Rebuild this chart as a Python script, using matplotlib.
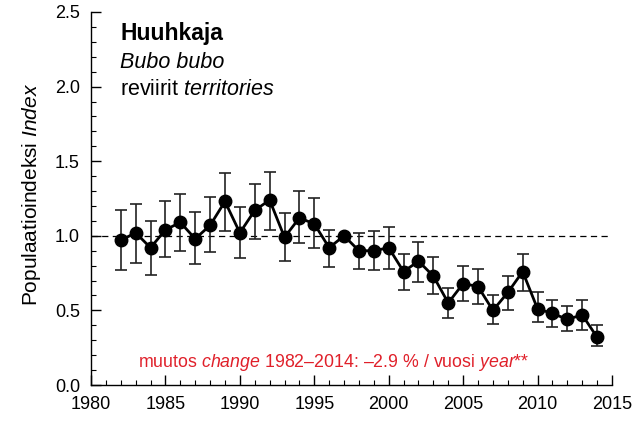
import matplotlib
matplotlib.use("Agg")
import matplotlib.pyplot as plt
from matplotlib.ticker import MultipleLocator

plt.rcParams['font.family'] = ['Liberation Sans', 'DejaVu Sans']
plt.rcParams['mathtext.fontset'] = 'custom'
plt.rcParams['mathtext.rm'] = 'Liberation Sans'
plt.rcParams['mathtext.it'] = 'Liberation Sans:italic'
plt.rcParams['mathtext.bf'] = 'Liberation Sans:bold'

years = list(range(1982, 2015))
index = [0.97, 1.02, 0.92, 1.04, 1.09, 0.98, 1.07, 1.23, 1.02, 1.17, 1.24, 0.99,
         1.12, 1.08, 0.92, 1.00, 0.90, 0.90, 0.92, 0.76, 0.83, 0.73, 0.55,
         0.68, 0.66, 0.50, 0.62, 0.76, 0.51, 0.48, 0.44, 0.47, 0.32]
upper = [1.17, 1.21, 1.10, 1.23, 1.28, 1.16, 1.26, 1.42, 1.19, 1.35, 1.43, 1.15,
         1.30, 1.25, 1.04, 1.00, 1.02, 1.03, 1.06, 0.88, 0.96, 0.86, 0.65,
         0.80, 0.78, 0.60, 0.73, 0.88, 0.62, 0.57, 0.53, 0.57, 0.40]
lower = [0.77, 0.82, 0.74, 0.86, 0.90, 0.81, 0.89, 1.03, 0.85, 0.98, 1.04, 0.83,
         0.95, 0.92, 0.79, 1.00, 0.78, 0.77, 0.78, 0.64, 0.69, 0.61, 0.45,
         0.56, 0.54, 0.41, 0.50, 0.63, 0.42, 0.39, 0.36, 0.37, 0.26]

xticks = [1980, 1985, 1990, 1995, 2000, 2005, 2010, 2015]
yticks = [0.0, 0.5, 1.0, 1.5, 2.0, 2.5]

fig = plt.figure(figsize=(6.35, 4.30), dpi=100)
ax = fig.add_axes([91/635, 1-385/430, (612-91)/635, (385-12)/430])

yerr = [[i - l for i, l in zip(index, lower)], [u - i for i, u in zip(index, upper)]]
ax.errorbar(years, index, yerr=yerr, fmt='none', ecolor='#222222', elinewidth=1.2,
            capsize=4.5, capthick=1.2, zorder=2)
ax.plot(years, index, '-o', color='black', lw=2, markersize=9, zorder=3)
ax.plot([1980, 2015], [1.0, 1.0], ls=(0, (5, 3.5)), color='black', lw=0.9, zorder=1)

ax.set_xlim(1980, 2015)
ax.set_ylim(0, 2.5)
ax.set_xticks(xticks)
ax.set_xticklabels([str(x) for x in xticks])
ax.set_yticks(yticks)
ax.set_yticklabels([f"{y:.1f}" for y in yticks])
ax.xaxis.set_minor_locator(MultipleLocator(1))
ax.yaxis.set_minor_locator(MultipleLocator(0.1))
ax.tick_params(which='both', direction='in', labelsize=13, color='black')
ax.tick_params(which='major', length=7, width=1)
ax.tick_params(which='minor', length=3.5, width=0.8)
ax.tick_params(axis='x', pad=8)
ax.tick_params(axis='y', pad=8)
for s in ['top', 'right']:
    ax.spines[s].set_visible(False)
for s in ['left', 'bottom']:
    ax.spines[s].set_linewidth(1)

fig.text(120/635, 1-40/430, "Huuhkaja", fontsize=16.5, fontweight='bold', va='baseline', ha='left')
fig.text(120/635, 1-68/430, "Bubo bubo", fontsize=15.5, style='italic', va='baseline', ha='left')
fig.text(120/635, 1-95/430, r"reviirit $\mathit{territories}$", fontsize=15.5, va='baseline', ha='left')

fig.text(32/635, 1-194/430, r"Populaatioindeksi $\mathit{Index}$", fontsize=15, rotation=90,
         va='center', ha='center')

fig.text(138/635, 1-366.7/430, r"muutos $\mathit{change}$ 1982–2014: –2.9 % / vuosi $\mathit{year}$**",
         fontsize=12.8, color='#e0202a', va='baseline', ha='left')

fig.savefig("out.png", dpi=100)
